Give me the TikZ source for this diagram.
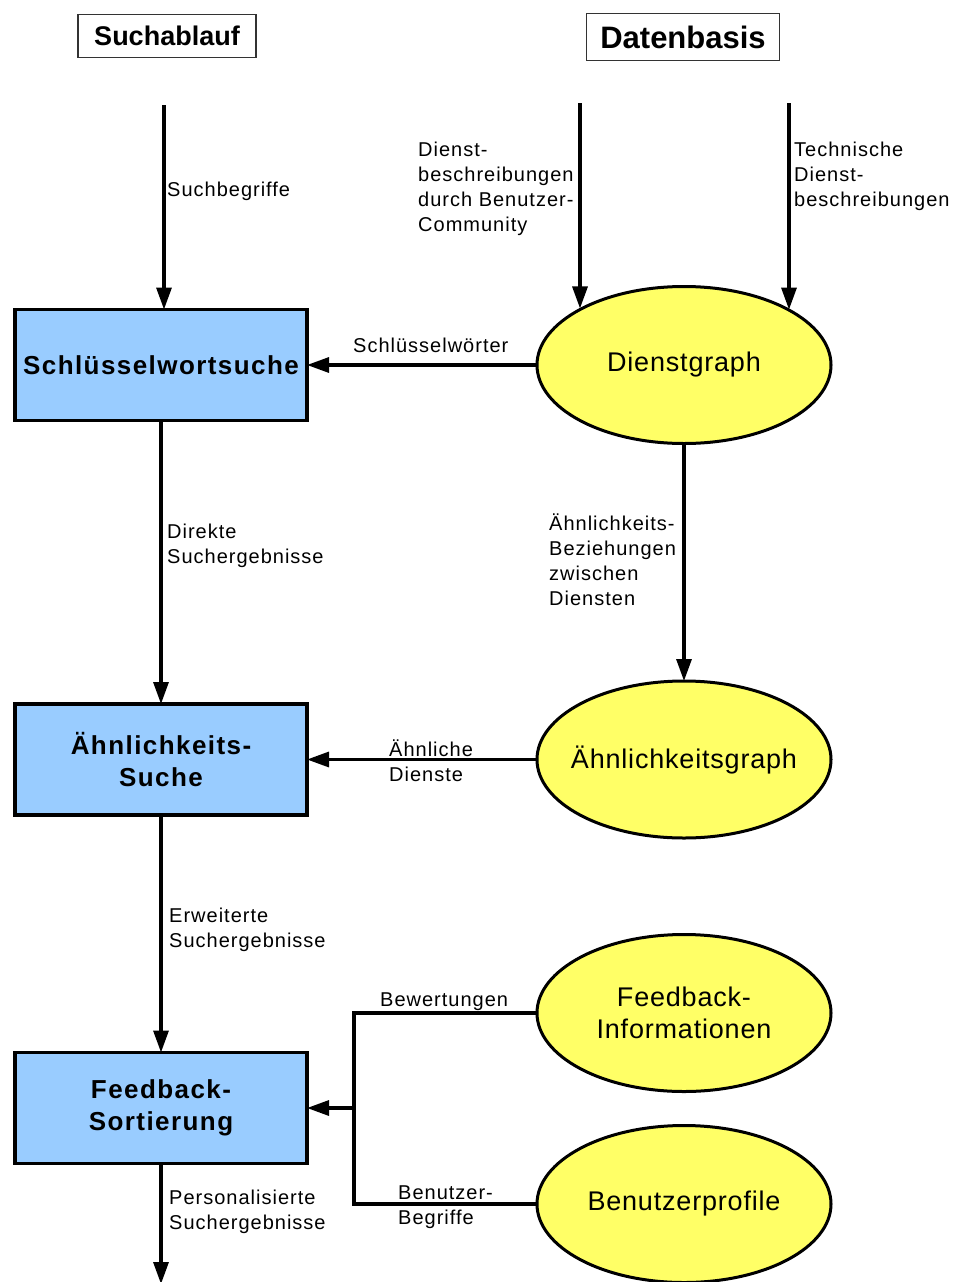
\documentclass[tikz,border=0pt]{standalone}
\usepackage{fontspec}
\setmainfont{Liberation Sans}
\newfontfamily\lblfont[LetterSpace=5]{Liberation Sans}
\newfontfamily\stepfont[LetterSpace=5.5]{Liberation Sans}
\newfontfamily\storefont[LetterSpace=3]{Liberation Sans}
\usetikzlibrary{arrows.meta,shapes.geometric}
\definecolor{boxblue}{RGB}{153,204,255}
\definecolor{graphyellow}{RGB}{255,255,102}
\begin{document}
\begin{tikzpicture}[x=1pt,y=-1pt,
  flow/.style={line width=3.2pt,-{Triangle[length=22pt,width=15pt]}},
  plain/.style={line width=3.2pt},
  stepbox/.style={draw,line width=3.5pt,fill=boxblue,minimum width=292pt,
    minimum height=111pt,inner sep=0pt,outer sep=0pt,align=center,
    font=\stepfont\fontsize{26}{32}\selectfont\bfseries},
  store/.style={draw,ellipse,line width=3pt,fill=graphyellow,minimum width=294pt,
    minimum height=157pt,inner sep=0pt,outer sep=0pt,align=center,
    font=\storefont\fontsize{27}{32}\selectfont},
  header/.style={draw=black!80,line width=1.2pt,fill=white,inner sep=0pt,outer sep=0pt},
  lbl/.style={anchor=west,inner sep=0pt,align=left,font=\lblfont\fontsize{20}{25}\selectfont}]
\useasboundingbox (0,0) rectangle (956,1282);

% column headers
\node[header,minimum width=178pt,minimum height=43pt,font=\fontsize{27}{30}\selectfont\bfseries] (h1) at (167,36) {Suchablauf};
\node[header,minimum width=193pt,minimum height=47pt,font=\fontsize{31}{34}\selectfont\bfseries] (h2) at (683,37) {Datenbasis};

% search steps
\node[stepbox] (s1) at (161,365) {Schlüsselwortsuche};
\node[stepbox] (s2) at (161,759.5) {Ähnlichkeits-\\Suche};
\node[stepbox] (s3) at (161,1108) {Feedback-\\Sortierung};

% data stores (single-line labels kept from widening the ellipse)
\node[store] (dg) at (684,365) {\makebox[0pt]{Dienstgraph}};
\node[store] (ag) at (684,759.5) {\makebox[0pt]{Ähnlichkeitsgraph}};
\node[store] (fi) at (684,1013) {Feedback-\\Informationen};
\node[store] (bp) at (684,1204) {\makebox[0pt]{Benutzerprofile}};

% free ends
\coordinate (in1) at (164,105);
\coordinate (in2) at (580,103);
\coordinate (in3) at (789,103);
\coordinate (join) at (354,1108);
\coordinate (out) at (161,1284);

% connectors
\draw[flow] (in1) -- (in1 |- s1.north);
\draw[flow] (in2) -- (in2 |- dg.151.5);
\draw[flow] (in3) -- (in3 |- dg.28.3);
\draw[flow] (dg.west) -- (s1.east);
\draw[flow] (dg.south) -- (ag.north);
\draw[flow] (s1.south) -- (s2.north);
\draw[flow] (ag.west) -- (s2.east);
\draw[flow] (s2.south) -- (s3.north);
\draw[plain] (fi.west) -- (join |- fi.west) -- (join |- bp.west) -- (bp.west);
\draw[flow] (join) -- (s3.east);
\draw[flow] (s3.south) -- (out);

% connector labels
\node[lbl] (l1) at (167,191) {Suchbegriffe};
\node[lbl] (l2) at (418,189) {Dienst-\\beschreibungen\\durch Benutzer-\\Community};
\node[lbl] (l3) at (794,176) {Technische\\Dienst-\\beschreibungen};
\node[lbl] (l4) at (353,345) {Schlüsselwörter};
\node[lbl] (l5) at (549,560) {Ähnlichkeits-\\Beziehungen\\zwischen\\Diensten};
\node[lbl] (l6) at (167,546) {Direkte\\Suchergebnisse};
\node[lbl] (l7) at (389,761) {Ähnliche\\Dienste};
\node[lbl] (l8) at (169,930) {Erweiterte\\Suchergebnisse};
\node[lbl] (l9) at (380,1002) {Bewertungen};
\node[lbl] (l10) at (398,1207) {Benutzer-\\Begriffe};
\node[lbl] (l11) at (169,1212) {Personalisierte\\Suchergebnisse};
\end{tikzpicture}
\end{document}
